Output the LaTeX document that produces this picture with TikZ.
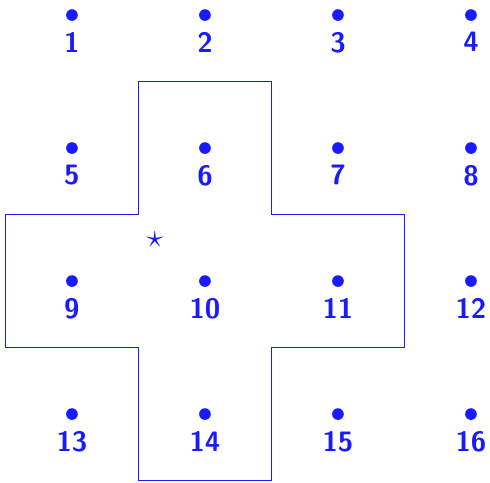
\documentclass[tikz,border=0pt]{standalone}
\usepackage{xcolor}
\usepackage{tikz}
\usetikzlibrary{positioning}
\definecolor{dotblue}{HTML}{1A1AFF}

\begin{document}
\begin{tikzpicture}[x=2cm, y=2cm,
  gridpt/.style={circle, fill=dotblue, inner sep=0pt, minimum size=5pt},
  ptlabel/.style={text=dotblue, font=\large\sffamily\bfseries, inner sep=1pt},
]
\useasboundingbox (-0.541,-3.511) rectangle (3.143,0.113);
% grid of numbered points
\foreach \n in {1,...,16} {
  \pgfmathtruncatemacro{\c}{mod(\n-1,4)}
  \pgfmathtruncatemacro{\r}{div(\n-1,4)}
  \node[gridpt] (d\n) at (\c,-\r) {};
  \node[ptlabel, below=0.12cm of d\n] (l\n) {\n};
}
% cross outline
\draw[dotblue, line width=0.45pt] (0.5,-0.5) -- (1.5,-0.5) -- (1.5,-1.5) -- (2.5,-1.5) -- (2.5,-2.5) -- (1.5,-2.5) -- (1.5,-3.5) -- (0.5,-3.5) -- (0.5,-2.5) -- (-0.5,-2.5) -- (-0.5,-1.5) -- (0.5,-1.5) -- cycle;
\node[text=dotblue, inner sep=0pt, font=\Large] (star) at (0.624,-1.692) {$\star$};
\end{tikzpicture}
\end{document}
